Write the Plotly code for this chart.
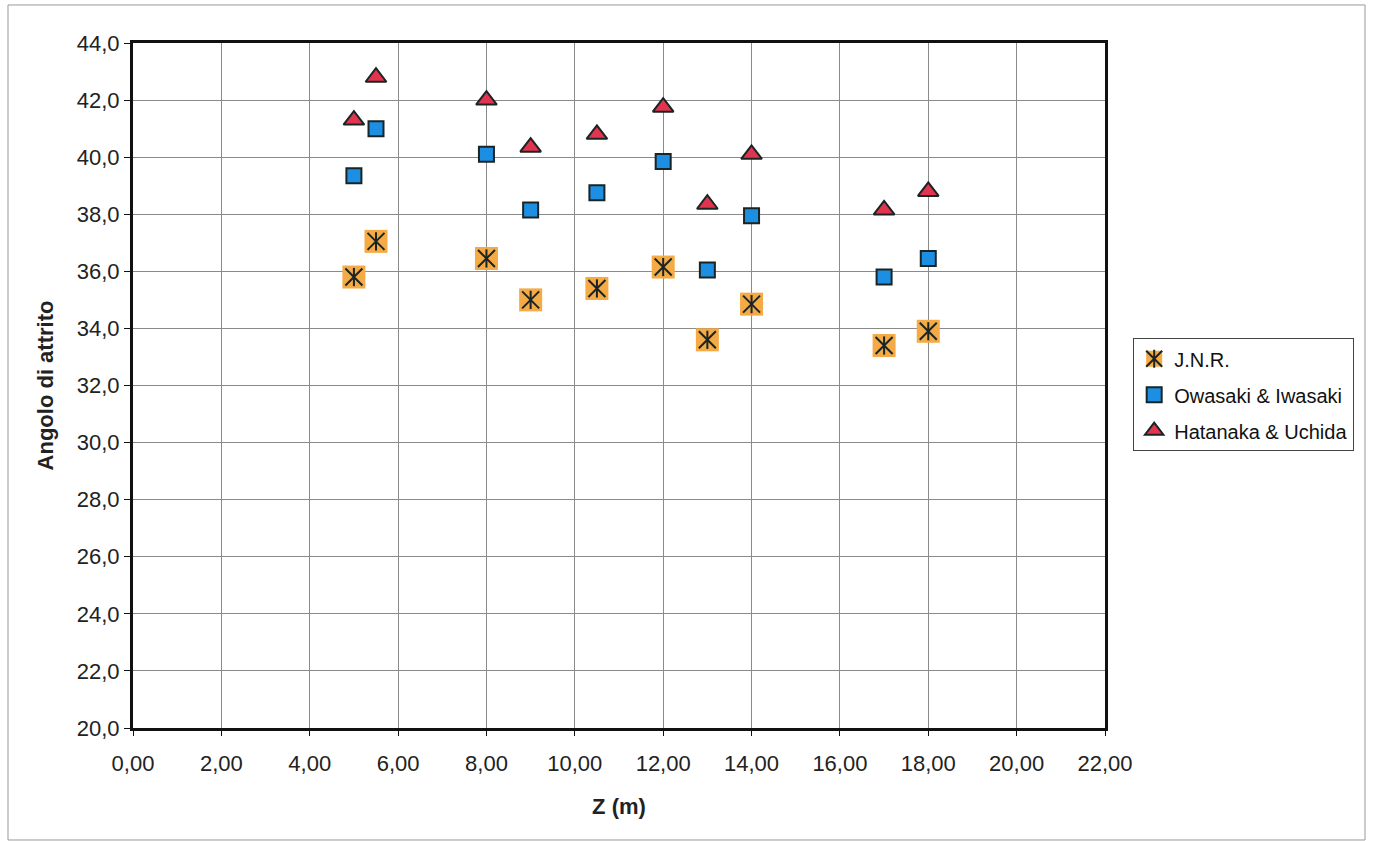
import plotly.graph_objects as go

# Data
z = [5.0, 5.5, 8.0, 9.0, 10.5, 12.0, 13.0, 14.0, 17.0, 18.0]
jnr = [35.8, 37.05, 36.45, 35.0, 35.4, 36.15, 33.6, 34.85, 33.4, 33.9]
owasaki = [39.35, 41.0, 40.1, 38.15, 38.75, 39.85, 36.05, 37.95, 35.8, 36.45]
hatanaka = [41.3, 42.8, 42.0, 40.35, 40.8, 41.75, 38.35, 40.1, 38.15, 38.8]

names = ["J.N.R.", "Owasaki & Iwasaki", "Hatanaka & Uchida"]
x_ticks = [0, 2, 4, 6, 8, 10, 12, 14, 16, 18, 20, 22]
y_ticks = [20, 22, 24, 26, 28, 30, 32, 34, 36, 38, 40, 42, 44]

FONT = "Liberation Sans, Arial, sans-serif"
ORANGE = "#F4AA45"
BLUE = "#1C8FE3"
RED = "#E0344F"
EDGE = "#1a2424"

fig = go.Figure()

# J.N.R.: orange square with asterisk (X + vertical bar)
fig.add_trace(go.Scatter(
    x=z, y=jnr, mode="markers", name=names[0], legendgroup="g1",
    marker=dict(symbol="square", size=23, color=ORANGE, line=dict(width=0)),
    legend="legend"))
fig.add_trace(go.Scatter(
    x=z, y=jnr, mode="markers", name=names[0], legendgroup="g1",
    marker=dict(symbol="x-thin-open", size=17, color=EDGE, line=dict(width=2, color=EDGE)),
    legend="legend2"))
fig.add_trace(go.Scatter(
    x=z, y=jnr, mode="markers", name=names[0], legendgroup="g1",
    marker=dict(symbol="line-ns-open", size=13, color=EDGE, line=dict(width=2, color=EDGE)),
    legend="legend3"))

fig.add_trace(go.Scatter(
    x=z, y=owasaki, mode="markers", name=names[1], legendgroup="g2",
    marker=dict(symbol="square", size=15, color=BLUE, line=dict(width=2, color=EDGE)),
    legend="legend"))
fig.add_trace(go.Scatter(
    x=z, y=hatanaka, mode="markers", name=names[2], legendgroup="g3",
    marker=dict(symbol="triangle-up", size=18, color=RED, line=dict(width=2, color=EDGE)),
    legend="legend"))

LX, LY = 1.029, 0.569
overlay_font = dict(family=FONT, size=20, color="rgba(0,0,0,0)")

fig.update_layout(
    width=1375, height=841,
    margin=dict(l=133, r=270, t=43, b=113),
    paper_bgcolor="white", plot_bgcolor="white",
    separators=",.",
    font=dict(family=FONT, size=22, color="#222"),
    legend=dict(x=LX, y=LY, xanchor="left", yanchor="top",
                font=dict(family=FONT, size=20, color="#111"),
                borderwidth=1, bordercolor="#444", bgcolor="white",
                itemwidth=30, tracegroupgap=7),
    legend2=dict(x=LX, y=LY, xanchor="left", yanchor="top", font=overlay_font,
                 borderwidth=1, bordercolor="rgba(0,0,0,0)", bgcolor="rgba(0,0,0,0)",
                 itemwidth=30, tracegroupgap=7),
    legend3=dict(x=LX, y=LY, xanchor="left", yanchor="top", font=overlay_font,
                 borderwidth=1, bordercolor="rgba(0,0,0,0)", bgcolor="rgba(0,0,0,0)",
                 itemwidth=30, tracegroupgap=7),
    showlegend=True,
    shapes=[dict(type="rect", xref="paper", yref="paper",
                 x0=-0.1286, x1=1.2675, y0=-0.1635, y1=1.0555,
                 line=dict(color="#999", width=1), layer="below")],
)

fig.update_xaxes(
    range=[0, 22], tickvals=x_ticks, tickformat=".2f",
    showgrid=True, gridcolor="#8a8a8a", gridwidth=1, zeroline=False,
    showline=True, linecolor="#111", linewidth=3, mirror=True,
    ticks="outside", ticklen=5, tickcolor="#111", ticklabelstandoff=9,
    tickfont=dict(family=FONT, size=22, color="#222"),
    title=dict(text="<b>Z (m)</b>", font=dict(family=FONT, size=22, color="#222"), standoff=24),
)
fig.update_yaxes(
    range=[20, 44], tickvals=y_ticks, tickformat=".1f",
    showgrid=True, gridcolor="#8a8a8a", gridwidth=1, zeroline=False,
    showline=True, linecolor="#111", linewidth=3, mirror=True,
    ticks="outside", ticklen=6, tickcolor="#111",
    tickfont=dict(family=FONT, size=22, color="#222"),
    title=dict(text="<b>Angolo di attrito</b>", font=dict(family=FONT, size=22, color="#222"), standoff=18),
)

fig.write_html("out.html", config={"displayModeBar": False},
               post_script="document.body.style.margin='0';")
